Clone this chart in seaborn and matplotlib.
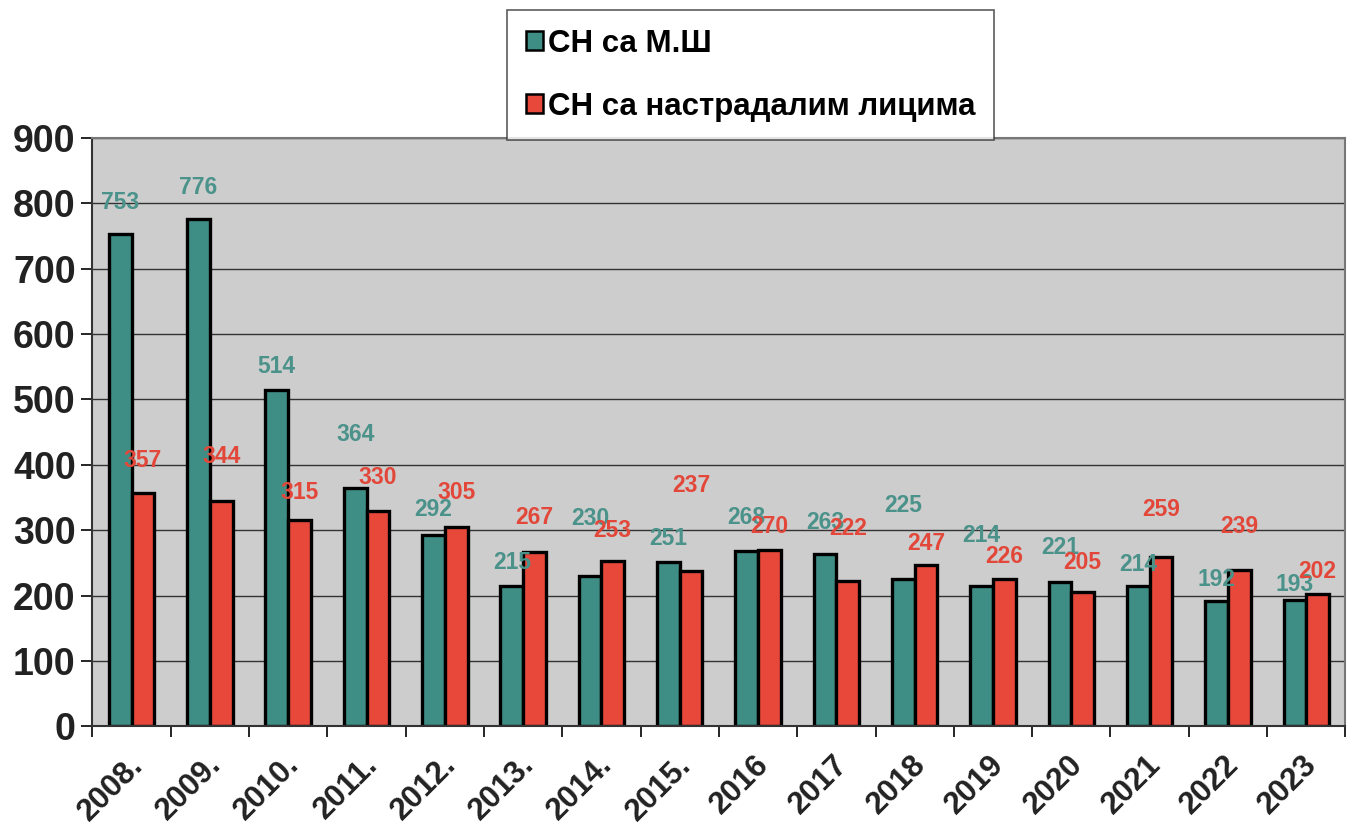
import pandas as pd
import matplotlib
matplotlib.use('Agg')
import matplotlib.pyplot as plt
import matplotlib.transforms as mtransforms
import seaborn as sns
from matplotlib.ticker import FixedLocator

years = ['2008.', '2009.', '2010.', '2011.', '2012.', '2013.', '2014.', '2015.',
         '2016', '2017', '2018', '2019', '2020', '2021', '2022', '2023']
sn_ms = [753, 776, 514, 364, 292, 215, 230, 251, 268, 263, 225, 214, 221, 214, 192, 193]
sn_injured = [357, 344, 315, 330, 305, 267, 253, 237, 270, 222, 247, 226, 205, 259, 239, 202]
series_names = ['СН са М.Ш', 'СН са настрадалим лицима']

# label offsets above bar tops (data units), mimicking the hand-placed labels
off_ms = [49, 48, 37, 82, 39, 36, 88, 37, 52, 48, 112, 78, 53, 33, 32, 24]
off_inj = [49, 68, 42, 50, 53, 52, 47, 132, 35, 80, 33, 34, 45, 73, 66, 35]

teal = '#3F8E86'
red = '#E8483A'
teal_txt = '#4A928A'
red_txt = '#E2473A'

df = pd.DataFrame({
    'year': years * 2,
    'value': sn_ms + sn_injured,
    'series': [series_names[0]] * len(years) + [series_names[1]] * len(years),
})

plt.rcParams['font.family'] = ['Liberation Sans', 'DejaVu Sans']
plt.rcParams['font.weight'] = 'bold'

fig = plt.figure(figsize=(13.59, 8.31), dpi=100, facecolor='white')
ax = fig.add_axes([0.068, 0.126, 0.922, 0.708])
ax.set_facecolor('#CDCDCD')

sns.barplot(data=df, x='year', y='value', hue='series', palette=[teal, red],
            width=0.58, edgecolor='black', linewidth=2.4, saturation=1, ax=ax,
            legend=False)

ax.set_ylim(0, 900)
ax.set_xlim(-0.5, len(years) - 0.5)
ax.set_yticks(range(0, 901, 100))
ax.yaxis.grid(True, color='#333333', linewidth=1)
ax.set_axisbelow(True)
ax.set_xlabel('')
ax.set_ylabel('')

for lab in ax.get_yticklabels():
    lab.set_fontsize(27)
    lab.set_fontweight('bold')
    lab.set_color('#222222')
ax.tick_params(axis='y', length=8, width=1.2, direction='out', pad=4)

ax.tick_params(axis='x', which='major', length=0, pad=17)
ax.xaxis.set_minor_locator(FixedLocator([i - 0.5 for i in range(len(years) + 1)]))
ax.tick_params(axis='x', which='minor', length=8, width=1.2, direction='out')
shift = mtransforms.ScaledTranslation(-0.04, 0, fig.dpi_scale_trans)
for lab in ax.get_xticklabels():
    lab.set_rotation(45)
    lab.set_ha('right')
    lab.set_rotation_mode('anchor')
    lab.set_fontsize(22.5)
    lab.set_fontweight('bold')
    lab.set_color('#222222')
    lab.set_transform(lab.get_transform() + shift)

for s in ['top', 'right']:
    ax.spines[s].set_color('#777777')
    ax.spines[s].set_linewidth(1.5)
for s in ['left', 'bottom']:
    ax.spines[s].set_color('#333333')
    ax.spines[s].set_linewidth(1.5)

for cont, vals, offs, col in [(ax.containers[0], sn_ms, off_ms, teal_txt),
                              (ax.containers[1], sn_injured, off_inj, red_txt)]:
    for bar, v, o in zip(cont, vals, offs):
        ax.text(bar.get_x() + bar.get_width() / 2, bar.get_height() + o, str(v),
                ha='center', va='center', fontsize=16.5, fontweight='bold', color=col)

handles = [plt.Rectangle((0, 0), 1, 1, facecolor=teal, edgecolor='black', linewidth=1.8),
           plt.Rectangle((0, 0), 1, 1, facecolor=red, edgecolor='black', linewidth=1.8)]
leg = fig.legend(handles, series_names, loc='upper left', bbox_to_anchor=(0.373, 0.988),
                 frameon=True, fancybox=False, edgecolor='#333333', facecolor='white',
                 prop={'size': 22.5, 'weight': 'bold'}, handlelength=0.55, handleheight=0.55,
                 handletextpad=0.15, labelspacing=1.05, borderpad=0.6, borderaxespad=0)
leg.get_frame().set_linewidth(1.2)

plt.savefig('out.png', dpi=100, facecolor='white')
